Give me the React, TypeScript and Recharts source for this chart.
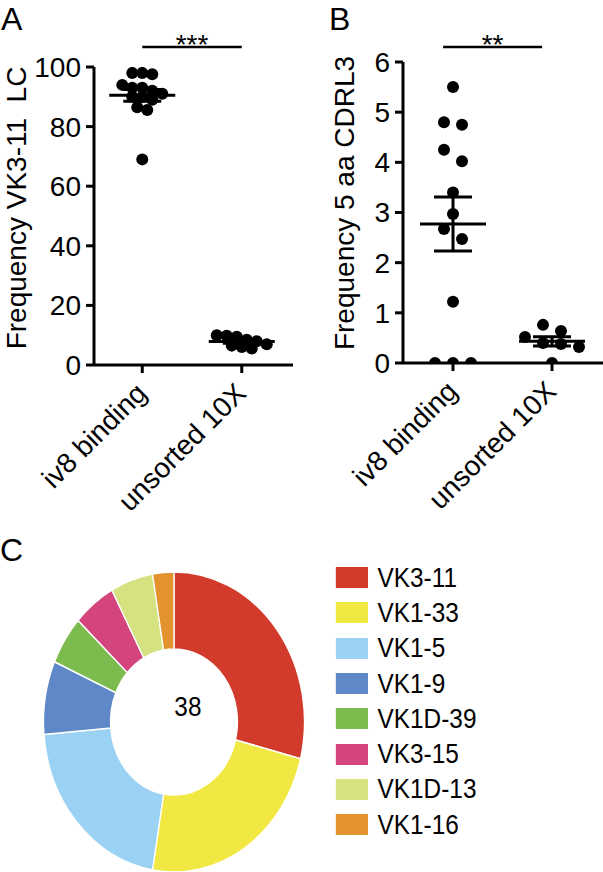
import React from 'react';
import {
  ScatterChart,
  Scatter,
  XAxis,
  YAxis,
  ErrorBar,
  ReferenceLine,
  PieChart,
  Pie,
  Cell,
  Label,
  Legend,
} from 'recharts';

const FONT = "'Liberation Sans', Arial, Helvetica, sans-serif";

// panel A/B groups
const groups = ['iv8 binding', 'unsorted 10X'];

// A: frequency of VK3-11 light chains (%)
const vk311Iv8 = [98, 98, 97.6, 94, 93, 93, 92, 91, 90, 90, 89, 86.5, 85.6, 69];
const vk311Unsorted = [10, 9.8, 9.5, 8.5, 8, 7, 6.5, 6, 5.5];
const ticksA = [0, 20, 40, 60, 80, 100];

// B: frequency of 5 aa CDRL3 (%)
const cdrIv8 = [5.5, 4.8, 4.75, 4.25, 4.02, 3.4, 2.97, 2.67, 2.47, 1.22, 0, 0, 0];
const cdrUnsorted = [0.76, 0.64, 0.52, 0.4, 0.38, 0.32, 0];
const ticksB = [0, 1, 2, 3, 4, 5, 6];

// C: VK gene usage
const vkGenes = ['VK3-11', 'VK1-33', 'VK1-5', 'VK1-9', 'VK1D-39', 'VK3-15', 'VK1D-13', 'VK1-16'];
const vkCounts = [11, 9, 8, 3, 2, 2, 2, 1];
const vkColors = ['#d23a2b', '#f2e844', '#9bd2f4', '#5e88c7', '#7cbc4f', '#d4457e', '#d6e27f', '#e2932e'];

const mean = (v: number[]) => v.reduce((a, b) => a + b, 0) / v.length;
const sem = (v: number[]) => {
  const m = mean(v);
  const sd = Math.sqrt(v.reduce((a, b) => a + (b - m) * (b - m), 0) / (v.length - 1));
  return sd / Math.sqrt(v.length);
};

// simple prism-like column scatter: bin by pixel height, spread each bin sideways
function swarm(values: number[], group: number, pxPerY: number, pxPerX: number, binPx: number, gapPx: number) {
  const sorted = [...values].sort((a, b) => b - a);
  const out: { x: number; y: number }[] = [];
  let bin: number[] = [];
  const flush = () => {
    bin.forEach((v, i) => out.push({ x: group + ((i - (bin.length - 1) / 2) * gapPx) / pxPerX, y: v }));
    bin = [];
  };
  sorted.forEach((v) => {
    if (bin.length && (bin[0] - v) * pxPerY >= binPx) flush();
    bin.push(v);
  });
  flush();
  return out;
}

const Dot = (p: any) => <circle cx={p.cx} cy={p.cy} r={6} fill="#000" />;
const MeanLine = (p: any) => (
  <line x1={p.cx - 33} x2={p.cx + 33} y1={p.cy} y2={p.cy} stroke="#000" strokeWidth={3} />
);

const CatTick = (p: any) => (
  <g transform={`translate(${p.x + 6},${p.y + 22})`}>
    <text transform="rotate(-45)" textAnchor="end" fontSize={28} fontFamily={FONT} fill="#000">
      {groups[p.payload.value - 1]}
    </text>
  </g>
);

const axisStyle = { stroke: '#000', strokeWidth: 3 };

interface DotPanelProps {
  left: number;
  width: number;
  marginLeft: number;
  marginRight: number;
  top: number;
  bottom: number;
  xDomain: [number, number];
  yMax: number;
  ticks: number[];
  a: number[];
  b: number[];
  binPx: number;
  gapPx: number;
  title: string;
  titleX: number;
  titleY: number;
  sigX: [number, number];
  sigY: number;
  sig: string;
}

function DotPanel(props: DotPanelProps) {
  const H = 540;
  const plotW = props.width - props.marginLeft - 60 - props.marginRight;
  const plotH = H - props.top - props.bottom - 100;
  const pxX = plotW / (props.xDomain[1] - props.xDomain[0]);
  const pxY = plotH / props.yMax;
  const dots = [
    ...swarm(props.a, 1, pxY, pxX, props.binPx, props.gapPx),
    ...swarm(props.b, 2, pxY, pxX, props.binPx, props.gapPx),
  ];
  const means = [
    { x: 1, y: mean(props.a), err: sem(props.a) },
    { x: 2, y: mean(props.b), err: sem(props.b) },
  ];
  return (
    <div style={{ position: 'absolute', left: props.left, top: 0 }}>
      <ScatterChart
        width={props.width}
        height={H}
        margin={{ top: props.top, right: props.marginRight, bottom: props.bottom, left: props.marginLeft }}
      >
        <XAxis
          type="number"
          dataKey="x"
          domain={props.xDomain}
          ticks={[1, 2]}
          allowDataOverflow
          height={100}
          tickSize={8}
          tickMargin={0}
          axisLine={axisStyle}
          tickLine={axisStyle}
          tick={<CatTick />}
          interval={0}
        />
        <YAxis
          type="number"
          dataKey="y"
          domain={[0, props.yMax]}
          ticks={props.ticks}
          allowDataOverflow
          width={60}
          tickSize={8}
          tickMargin={5}
          axisLine={axisStyle}
          tickLine={axisStyle}
          tick={{ fill: '#000', fontSize: 28, fontFamily: FONT }}
          interval={0}
          label={{
            content: () => (
              <text
                x={props.titleX}
                y={props.titleY}
                transform={`rotate(-90, ${props.titleX}, ${props.titleY})`}
                textAnchor="middle"
                fontSize={28}
                fontFamily={FONT}
                fill="#000"
                style={{ whiteSpace: 'pre' }}
              >
                {props.title}
              </text>
            ),
          }}
        />
        <Scatter data={dots} shape={Dot} isAnimationActive={false} />
        <Scatter data={means} shape={MeanLine} isAnimationActive={false}>
          <ErrorBar dataKey="err" direction="y" width={19} stroke="#000" strokeWidth={3} isAnimationActive={false} />
        </Scatter>
        <ReferenceLine
          segment={[
            { x: props.sigX[0], y: props.sigY },
            { x: props.sigX[1], y: props.sigY },
          ]}
          stroke="#000"
          strokeWidth={2.5}
          ifOverflow="visible"
          label={{
            content: (lp: any) => {
              const vb = lp.viewBox || {};
              return (
                <text
                  x={vb.x + (vb.width || 0) / 2}
                  y={vb.y + 7}
                  textAnchor="middle"
                  fontSize={28}
                  fontFamily={FONT}
                  fill="#000"
                >
                  {props.sig}
                </text>
              );
            },
          }}
        />
      </ScatterChart>
    </div>
  );
}

const pieData = vkGenes.map((name, i) => ({ name, value: vkCounts[i] }));
const total = vkCounts.reduce((a, b) => a + b, 0);

const renderLegend = () => (
  <div style={{ fontFamily: FONT }}>
    {vkGenes.map((g, i) => (
      <div key={g} style={{ display: 'flex', alignItems: 'center', height: 35.3 }}>
        <span style={{ width: 37, height: 21, background: vkColors[i], display: 'inline-block' }} />
        <span style={{ marginLeft: 11, fontSize: 28, lineHeight: 1, color: '#000' }}>{g}</span>
      </div>
    ))}
  </div>
);

export default function App() {
  return (
    <div style={{ position: 'absolute', left: 0, top: 0, width: 603, height: 872, background: '#fff', fontFamily: FONT }}>
      <DotPanel
        left={0}
        width={300}
        marginLeft={34}
        marginRight={7}
        top={67}
        bottom={75}
        xDomain={[0.515, 2.515]}
        yMax={100}
        ticks={ticksA}
        a={vk311Iv8}
        b={vk311Unsorted}
        binPx={10}
        gapPx={10}
        title="Frequency VK3-11  LC"
        titleX={26}
        titleY={208}
        sigX={[1, 2]}
        sigY={106.7}
        sig="***"
      />
      <DotPanel
        left={300}
        width={303}
        marginLeft={43}
        marginRight={0}
        top={62}
        bottom={77}
        xDomain={[0.495, 2.515]}
        yMax={6}
        ticks={ticksB}
        a={cdrIv8}
        b={cdrUnsorted}
        binPx={12}
        gapPx={18}
        title="Frequency 5 aa CDRL3"
        titleX={54}
        titleY={203}
        sigX={[0.9, 1.9]}
        sigY={6.3}
        sig="**"
      />
      <div
        style={{
          position: 'absolute',
          left: 0,
          top: 540,
          width: 693,
          height: 332,
          transform: 'scaleX(0.87)',
          transformOrigin: '0 0',
        }}
      >
        <PieChart width={693} height={332} margin={{ top: 0, right: 0, bottom: 0, left: 0 }}>
          <Pie
            data={pieData}
            dataKey="value"
            nameKey="name"
            cx={200}
            cy={182}
            innerRadius={73}
            outerRadius={150}
            startAngle={90}
            endAngle={-270}
            stroke="#fff"
            strokeWidth={1.5}
            isAnimationActive={false}
          >
            {pieData.map((d, i) => (
              <Cell key={d.name} fill={vkColors[i]} />
            ))}
            <Label value={total} position="center" fontSize={28} fontFamily={FONT} fill="#000" />
          </Pie>
          <Legend
            content={renderLegend}
            layout="vertical"
            verticalAlign="top"
            align="right"
            wrapperStyle={{ position: 'absolute', left: 386, top: 20, width: 300 }}
          />
        </PieChart>
      </div>
      <svg width={603} height={872} style={{ position: 'absolute', left: 0, top: 0, pointerEvents: 'none' }}>
        <text x={1} y={30} fontSize={32} fontFamily={FONT} fill="#000">A</text>
        <text x={329} y={30} fontSize={32} fontFamily={FONT} fill="#000">B</text>
        <text x={0} y={561} fontSize={32} fontFamily={FONT} fill="#000">C</text>
      </svg>
    </div>
  );
}
